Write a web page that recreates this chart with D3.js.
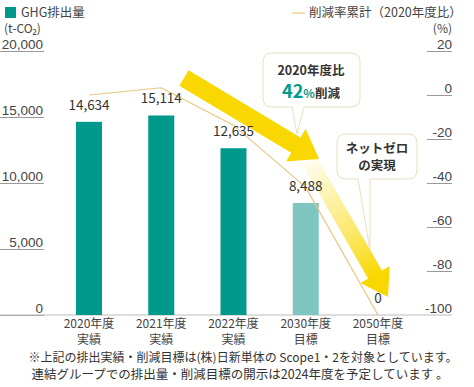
<!DOCTYPE html>
<html>
<head>
<meta charset="utf-8">
<script src="https://cdn.jsdelivr.net/npm/d3@7"></script>
<style>
  body { margin: 0; background: #fff; }
  svg { font-family: "Noto Sans CJK JP", "Noto Sans", sans-serif; }
</style>
</head>
<body>
<div id="chart"></div>
<script>
// data
const years = ["2020", "2021", "2022", "2030", "2050"];
const kinds = ["実績", "実績", "実績", "目標", "目標"];
const emissions = [14634, 15114, 12635, 8488, 0];
const reductionRate = [0, 3.3, -13.7, -42, -100];
const leftTicks = [0, 5000, 10000, 15000, 20000];
const rightTicks = [-100, -80, -60, -40, -20, 0, 20];

const width = 474, height = 387;
const teal = "#00998b", tealLight = "#7fc6c0", lineColor = "#e6c77e", yellow = "#f8d800";

const svg = d3.select("#chart").append("svg")
  .attr("width", width).attr("height", height);

// scales
const x = d3.scalePoint().domain(years).range([89, 378]);
const barW = 26;
const yL = d3.scaleLinear().domain([0, 20000]).range([315, 51]);
const yR = d3.scaleLinear().domain([-100, 20]).range([315, 51]);

// legend
svg.append("rect").attr("x", 5).attr("y", 7).attr("width", 11).attr("height", 11).attr("fill", teal);
svg.append("text").attr("x", 21).attr("y", 17).attr("font-size", 12.5).attr("fill", "#444").text("GHG排出量");
svg.append("line").attr("x1", 292).attr("x2", 305).attr("y1", 13).attr("y2", 13)
  .attr("stroke", lineColor).attr("stroke-width", 1.2);
svg.append("text").attr("x", 309).attr("y", 17).attr("font-size", 12.5).attr("fill", "#444").text("削減率累計（2020年度比）");

// axis units
svg.append("text").attr("x", 4).attr("y", 33).attr("font-size", 12).attr("fill", "#444")
  .text("(t-CO₂)");
svg.append("text").attr("x", 452).attr("y", 33).attr("text-anchor", "end").attr("font-size", 12).attr("fill", "#444")
  .text("(%)");

// left axis: underlined labels
const leftAxis = d3.axisLeft(yL).tickValues(leftTicks).tickSize(0).tickFormat(d3.format(","));
const gL = svg.append("g").attr("transform", "translate(43,0)").call(leftAxis);
gL.select(".domain").remove();
gL.selectAll(".tick text").attr("x", 0).attr("dy", -3).attr("font-size", 13.5)
  .attr("fill", "#444").attr("font-family", "inherit");
gL.selectAll(".tick").append("line").attr("x1", -43).attr("x2", 1).attr("stroke", "#999");

// right axis
const rightAxis = d3.axisRight(yR).tickValues(rightTicks).tickSize(0).tickFormat(d => String(d));
const gR = svg.append("g").attr("transform", "translate(452,0)").call(rightAxis);
gR.select(".domain").remove();
gR.selectAll(".tick text").attr("x", 0).attr("dy", -3).attr("text-anchor", "end").attr("font-size", 13.5)
  .attr("fill", "#444").attr("font-family", "inherit");
gR.selectAll(".tick").filter(d => d !== -100).append("line").attr("x1", -25).attr("x2", 0).attr("stroke", "#999");

// baseline
svg.append("line").attr("x1", 0).attr("x2", 452).attr("y1", yL(0)).attr("y2", yL(0))
  .attr("stroke", "#bbb");

// bars
svg.selectAll(".bar").data(years).join("rect").attr("class", "bar")
  .attr("x", d => x(d) - barW / 2)
  .attr("y", (d, i) => yL(emissions[i]))
  .attr("width", barW)
  .attr("height", (d, i) => yL(0) - yL(emissions[i]))
  .attr("fill", (d, i) => kinds[i] === "目標" ? tealLight : teal);

// reduction rate line
const line = d3.line().x((d, i) => x(years[i])).y(d => yR(d));
svg.append("path").datum(reductionRate).attr("d", line)
  .attr("fill", "none").attr("stroke", lineColor).attr("stroke-width", 1.2);

// arrows
function arrowPath(x1, y1, x2, y2, w, hw, hl) {
  const len = Math.hypot(x2 - x1, y2 - y1);
  const ux = (x2 - x1) / len, uy = (y2 - y1) / len;
  const nx = -uy, ny = ux;
  const bx = x2 - ux * hl, by = y2 - uy * hl;
  const p = [
    [x1 + nx * w / 2, y1 + ny * w / 2],
    [bx + nx * w / 2, by + ny * w / 2],
    [bx + nx * hw / 2, by + ny * hw / 2],
    [x2, y2],
    [bx - nx * hw / 2, by - ny * hw / 2],
    [bx - nx * w / 2, by - ny * w / 2],
    [x1 - nx * w / 2, y1 - ny * w / 2]
  ];
  return "M" + p.map(q => q.join(",")).join("L") + "Z";
}

const defs = svg.append("defs");
const grad = defs.append("linearGradient").attr("id", "fade")
  .attr("gradientUnits", "userSpaceOnUse")
  .attr("x1", 309).attr("y1", 160).attr("x2", 388).attr("y2", 297);
grad.append("stop").attr("offset", "0").attr("stop-color", "#fffdf0");
grad.append("stop").attr("offset", "0.55").attr("stop-color", "#fbe766");
grad.append("stop").attr("offset", "0.85").attr("stop-color", yellow);

svg.append("path").attr("d", arrowPath(309, 160, 388, 297, 16, 34, 26)).attr("fill", "url(#fade)");
svg.append("path").attr("d", arrowPath(184, 78, 319, 159, 18, 38, 27)).attr("fill", yellow);

// value labels
svg.selectAll(".val").data(years).join("text").attr("class", "val")
  .attr("x", d => x(d))
  .attr("y", (d, i) => yL(emissions[i]) - 12)
  .attr("text-anchor", "middle").attr("font-size", 13.5).attr("fill", "#333")
  .text((d, i) => d3.format(",")(emissions[i]));

// x labels
const xl = svg.selectAll(".xl").data(years).join("text").attr("class", "xl")
  .attr("text-anchor", "middle").attr("font-size", 12).attr("fill", "#444");
xl.append("tspan").attr("x", d => x(d)).attr("y", 328).text(d => d + "年度");
xl.append("tspan").attr("x", d => x(d)).attr("y", 344).text((d, i) => kinds[i]);

// callouts
function callout(x0, y0, x1, y1, r, t1, t2, tip) {
  return `M${x0 + r},${y0}H${x1 - r}Q${x1},${y0} ${x1},${y0 + r}V${y1 - r}Q${x1},${y1} ${x1 - r},${y1}`
    + `H${t2}L${tip[0]},${tip[1]}L${t1},${y1}`
    + `H${x0 + r}Q${x0},${y1} ${x0},${y1 - r}V${y0 + r}Q${x0},${y0} ${x0 + r},${y0}Z`;
}
svg.append("path").attr("d", callout(263, 53, 360, 107, 9, 292, 304, [297, 134]))
  .attr("fill", "#fff").attr("stroke", "#e9dfbd").attr("stroke-width", 1);
svg.append("path").attr("d", callout(337, 134, 417, 179, 9, 358, 370, [370, 250]))
  .attr("fill", "#fff").attr("fill-opacity", 0.9).attr("stroke", "#e9dfbd").attr("stroke-width", 1);

svg.append("text").attr("x", 311).attr("y", 75).attr("text-anchor", "middle")
  .attr("font-size", 12.5).attr("font-weight", "bold").attr("fill", "#333").text("2020年度比");
const t2 = svg.append("text").attr("x", 311).attr("y", 98).attr("text-anchor", "middle")
  .attr("font-weight", "bold");
t2.append("tspan").attr("font-size", 18).attr("fill", teal).text("42");
t2.append("tspan").attr("font-size", 12).attr("fill", teal).text("%");
t2.append("tspan").attr("font-size", 12.5).attr("fill", "#333").text("削減");

svg.append("text").attr("x", 377).attr("y", 153).attr("text-anchor", "middle")
  .attr("font-size", 12.5).attr("font-weight", "bold").attr("fill", "#333").text("ネットゼロ");
svg.append("text").attr("x", 377).attr("y", 170).attr("text-anchor", "middle")
  .attr("font-size", 12.5).attr("font-weight", "bold").attr("fill", "#333").text("の実現");

// footnote
svg.append("text").attr("x", 243).attr("y", 362).attr("text-anchor", "middle")
  .attr("font-size", 12).attr("fill", "#333")
  .text("※上記の排出実績・削減目標は(株)日新単体の Scope1・2を対象としています。");
svg.append("text").attr("x", 240).attr("y", 379).attr("text-anchor", "middle")
  .attr("font-size", 12.5).attr("fill", "#333")
  .text("連結グループでの排出量・削減目標の開示は2024年度を予定しています 。");
</script>
</body>
</html>
